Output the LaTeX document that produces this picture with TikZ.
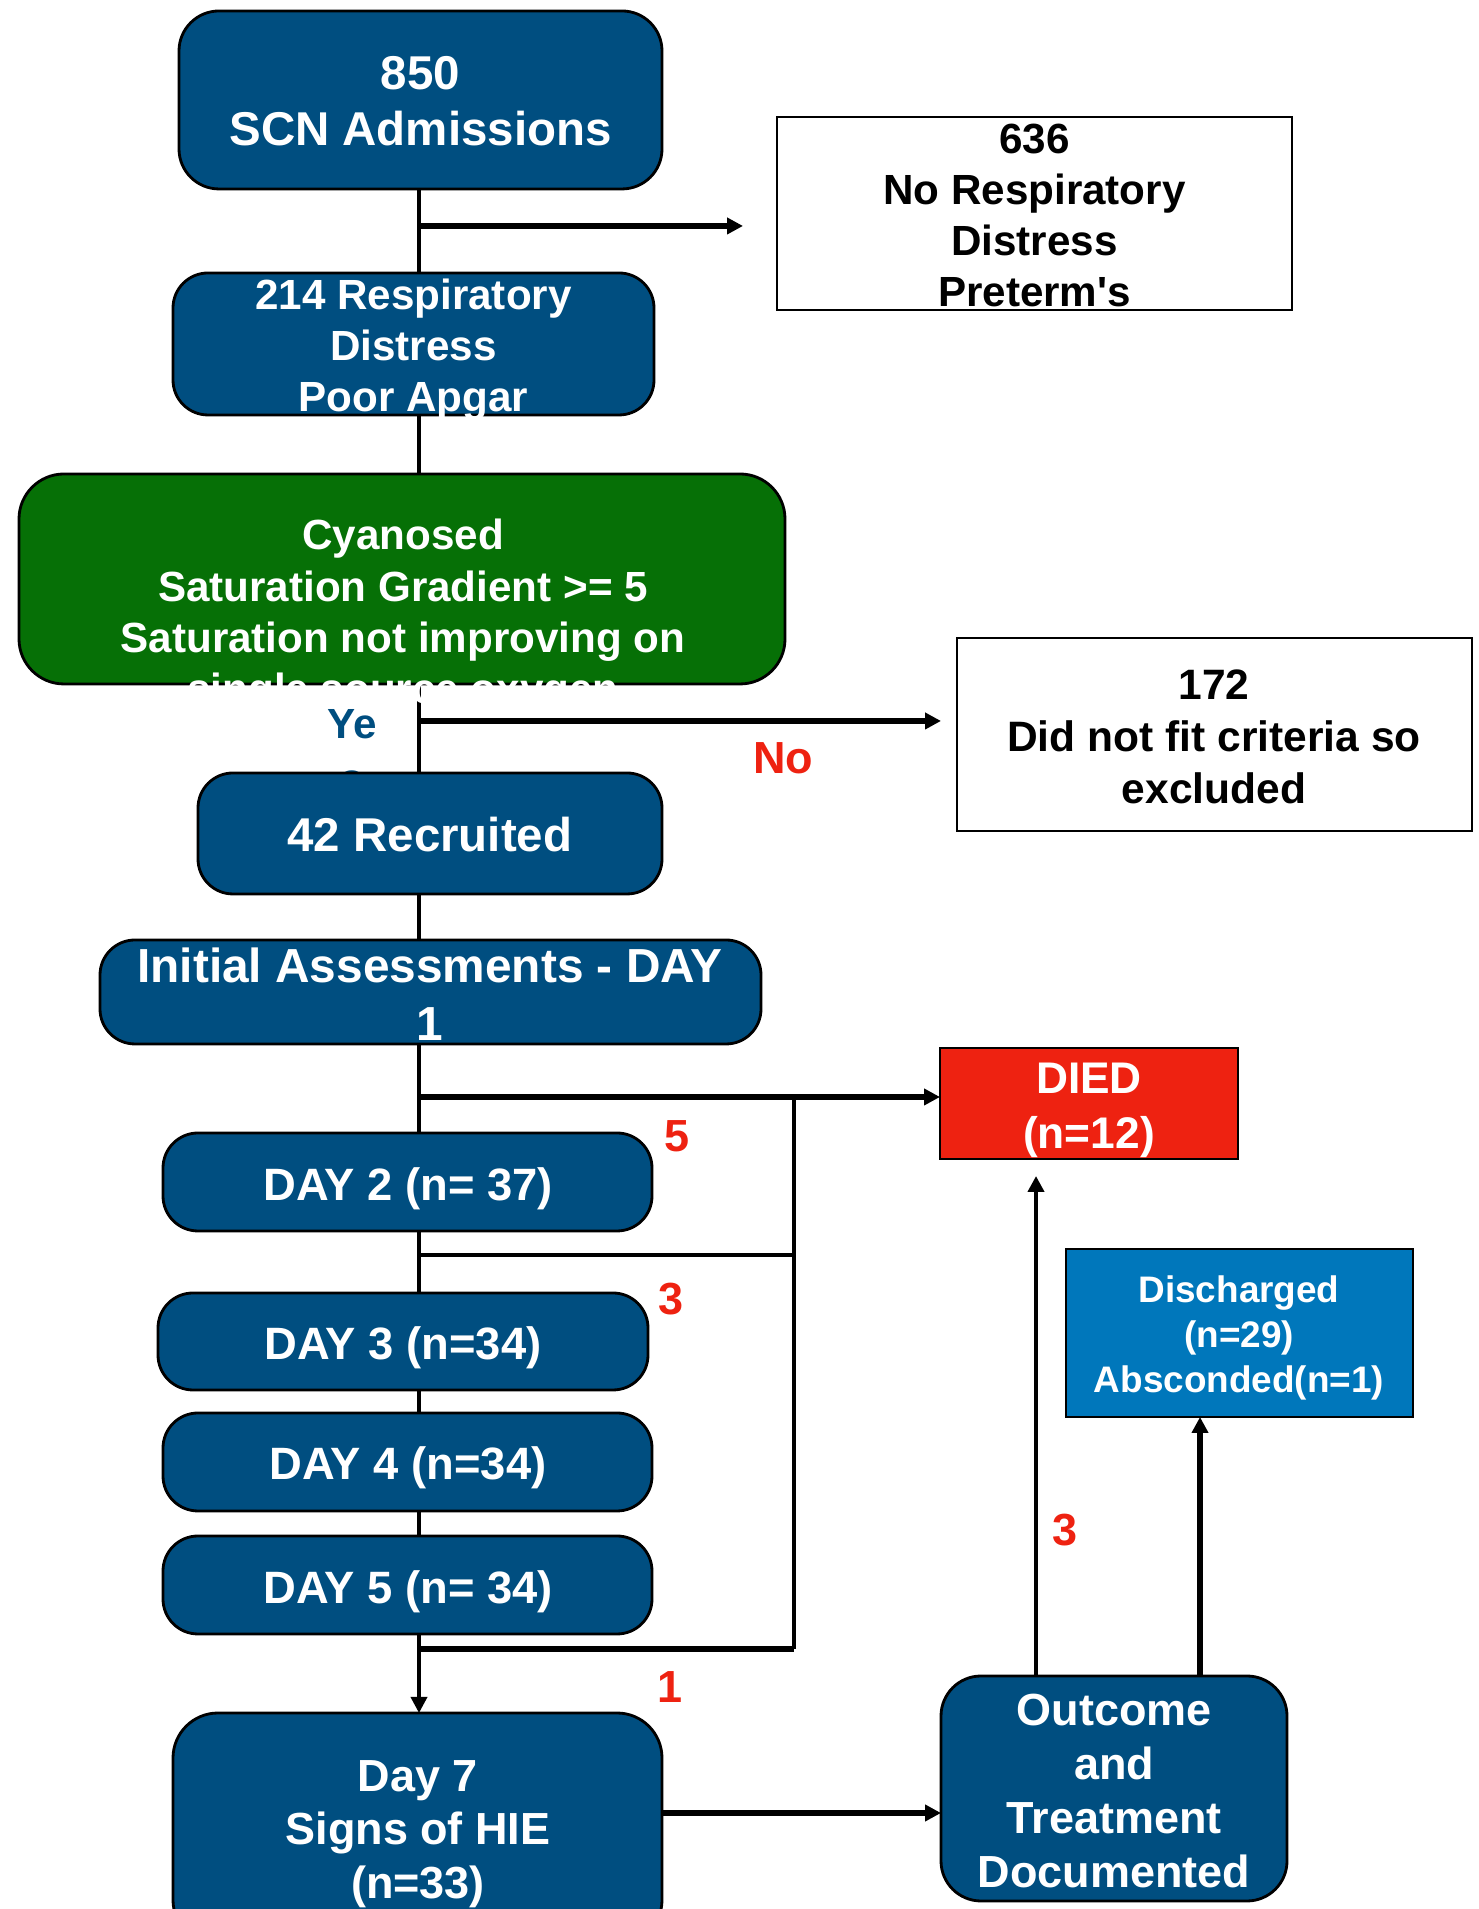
\documentclass[tikz,border=0pt]{standalone}
\usepackage{fontspec}
\setmainfont{Liberation Sans}
\usetikzlibrary{calc,arrows.meta}

\definecolor{boxblue}{RGB}{0,78,128}
\definecolor{boxgreen}{RGB}{6,112,6}
\definecolor{diedred}{RGB}{238,34,17}
\definecolor{lightblue}{RGB}{0,119,187}

\begin{document}
\begin{tikzpicture}
\tikzstyle{bluebox}=[draw=black,line width=0.8pt,fill=boxblue,rounded corners=0.35cm,inner sep=0pt,outer sep=0pt]
\tikzstyle{whitebox}=[draw=black,line width=0.8pt,fill=white,inner sep=0pt,outer sep=0pt]
\tikzstyle{boxtext}=[text=white,align=center,inner sep=0pt]
\tikzstyle{fbig}=[font=\bfseries\fontsize{13.5}{15.9}\selectfont]
\tikzstyle{fmid}=[font=\bfseries\fontsize{12}{14.5}\selectfont]
\tikzstyle{fday}=[font=\bfseries\fontsize{12.9}{15.2}\selectfont]
\tikzstyle{fsmall}=[font=\bfseries\fontsize{10.5}{12.8}\selectfont]
\tikzstyle{flow}=[line width=1pt,black]
\tikzstyle{branch}=[line width=1.7pt,black]
\tikzstyle{arr}=[-{Triangle[length=1.6mm,width=1.6mm]}]
\tikzstyle{count}=[text=diedred,font=\bfseries\fontsize{12.8}{15}\selectfont]

	\useasboundingbox (0,0) rectangle (14.79,19.09);
	\clip (0,0) rectangle (14.79,19.09);

	% yes label sits behind the recruited box
	\node[fmid,text=boxblue,align=center,inner sep=0pt,font=\bfseries\fontsize{12}{15.6}\selectfont] (yes) at (3.52,11.575) {Ye\\s};

	% boxes
	\node[bluebox,minimum width=4.83cm,minimum height=1.78cm,rounded corners=0.4cm] (admit) at (4.205,18.09) {};
	\node[whitebox,minimum width=5.15cm,minimum height=1.93cm] (nores) at (10.345,16.955) {};
	\node[bluebox,minimum width=4.81cm,minimum height=1.42cm] (distress) at (4.135,15.65) {};
	\node[bluebox,fill=boxgreen,minimum width=7.66cm,minimum height=2.10cm,rounded corners=0.45cm] (cyan) at (4.02,13.30) {};
	\node[whitebox,minimum width=5.15cm,minimum height=1.93cm] (excl) at (12.145,11.745) {};
	\node[bluebox,minimum width=4.64cm,minimum height=1.21cm] (recruit) at (4.30,10.755) {};
	\node[bluebox,minimum width=6.61cm,minimum height=1.04cm] (initial) at (4.305,9.17) {};
	\node[whitebox,fill=diedred,minimum width=2.98cm,minimum height=1.11cm] (died) at (10.89,8.055) {};
	\node[bluebox,minimum width=4.89cm,minimum height=0.98cm] (day2) at (4.075,7.27) {};
	\node[bluebox,minimum width=4.90cm,minimum height=0.97cm] (day3) at (4.03,5.675) {};
	\node[bluebox,minimum width=4.89cm,minimum height=0.98cm] (day4) at (4.075,4.47) {};
	\node[bluebox,minimum width=4.89cm,minimum height=0.98cm] (day5) at (4.075,3.24) {};
	\node[bluebox,minimum width=4.89cm,minimum height=2.32cm,rounded corners=0.45cm] (hie) at (4.175,0.80) {};
	\node[bluebox,minimum width=3.46cm,minimum height=2.25cm,rounded corners=0.4cm] (outcome) at (11.14,1.205) {};
	\node[whitebox,fill=lightblue,minimum width=3.47cm,minimum height=1.68cm] (disch) at (12.395,5.76) {};

	% main line
	\coordinate (trunk) at (4.19,0);
	\foreach \a/\b in {admit/distress,distress/cyan,cyan/recruit,recruit/initial,initial/day2,day2/day3,day3/day4,day4/day5}
		\draw[flow] (\a.south -| trunk) -- (\b.north -| trunk);
	\draw[flow,arr] (day5.south -| trunk) -- (hie.north -| trunk);

	% side branches
	\coordinate (s1) at (4.19,16.83);
	\coordinate (s2) at (4.19,11.88);
	\draw[branch,arr,shorten >=3.4mm] (s1) -- (s1 -| nores.west);
	\draw[branch,arr,shorten >=1.6mm] (s2) -- (s2 -| excl.west);

	% deaths collected on the right
	\coordinate (d1) at (4.19,8.12);
	\coordinate (d2) at (4.19,6.54);
	\coordinate (d5) at (4.19,2.60);
	\coordinate (col) at (7.94,0);
	\draw[branch,arr] (d1) -- (d1 -| died.west);
	\draw[branch,line width=1.4pt] (d2) -- (d2 -| col);
	\draw[branch] (d5) -- (d5 -| col);
	\draw[flow,line width=1.3pt] (d5 -| col) -- (d1 -| col);

	% outcome
	\coordinate (o7) at (6.62,0.96);
	\coordinate (up1) at (10.36,0);
	\coordinate (up2) at (12.00,0);
	\draw[branch,arr] (o7) -- (o7 -| outcome.west);
	\draw[flow,line width=1.2pt,arr,shorten >=1.7mm] (outcome.north -| up1) -- (died.south -| up1);
	\draw[branch,line width=1.5pt,arr] (outcome.north -| up2) -- (disch.south -| up2);

	% texts
	\node[boxtext,fbig] (admitT) at (4.205,18.08) {850\\SCN Admissions};
	\node[boxtext,fmid,text=black] (noresT) at (10.345,16.935) {636\\No Respiratory\\Distress\\Preterm\textquotesingle s};
	\node[boxtext,fmid] (distressT) at (4.135,15.595) {214 Respiratory\\Distress\\Poor Apgar};
	\node[boxtext,font=\bfseries\fontsize{12}{14.6}\selectfont] (cyanT) at (4.03,12.93) {Cyanosed\\Saturation Gradient >= 5\\Saturation not improving on\\single source oxygen};
	\node[boxtext,font=\bfseries\fontsize{12.1}{14.8}\selectfont,text=black] (exclT) at (12.14,11.72) {172\\Did not fit criteria so\\excluded};
	\node[boxtext,fbig] (recruitT) at (4.30,10.74) {42 Recruited};
	\node[boxtext,font=\bfseries\fontsize{13.6}{16.5}\selectfont] (initialT) at (4.30,9.15) {Initial Assessments - DAY\\1};
	\node[boxtext,font=\bfseries\fontsize{12.6}{15.6}\selectfont] (diedT) at (10.89,7.985) {DIED\\(n=12)};
	\node[boxtext,fday] (day2T) at (4.08,7.20) {DAY 2 (n= 37)};
	\node[boxtext,fday] (day3T) at (4.03,5.61) {DAY 3 (n=34)};
	\node[boxtext,fday] (day4T) at (4.08,4.41) {DAY 4 (n=34)};
	\node[boxtext,fday] (day5T) at (4.08,3.17) {DAY 5 (n= 34)};
	\node[boxtext,font=\bfseries\fontsize{12.8}{15.2}\selectfont] (hieT) at (4.18,0.75) {Day 7\\Signs of HIE\\(n=33)};
	\node[boxtext,font=\bfseries\fontsize{12.8}{15.4}\selectfont] (outcomeT) at (11.14,1.18) {Outcome\\and\\Treatment\\Documented};
	\node[boxtext,fsmall] (dischT) at (12.39,5.71) {Discharged\\(n=29)\\Absconded(n=1)};

	% labels
	\node[count,text=diedred] (no) at (7.83,11.51) {No};
	\node[count] (n5) at (6.77,7.73) {5};
	\node[count] (n3a) at (6.71,6.10) {3};
	\node[count] (n1) at (6.70,2.22) {1};
	\node[count] (n3b) at (10.65,3.79) {3};

\end{tikzpicture}
\end{document}
